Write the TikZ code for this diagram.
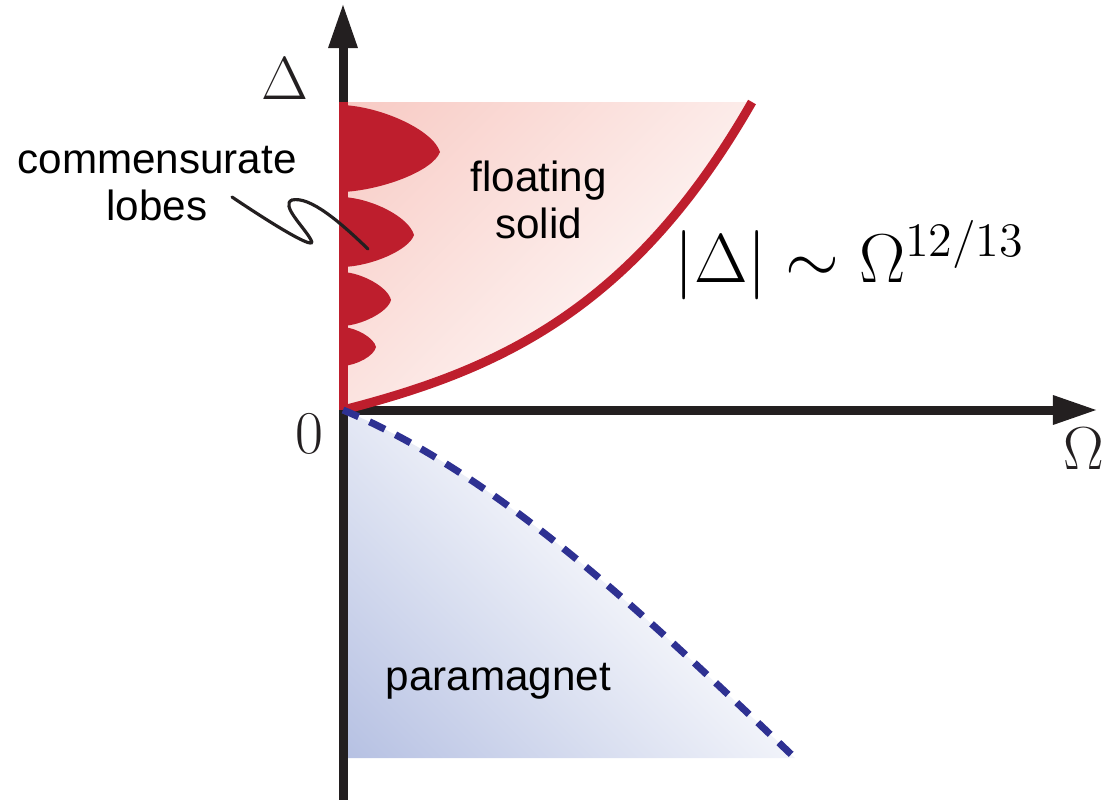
\documentclass[tikz,border=0pt]{standalone}
\usepackage{graphicx}
\usepackage{fontspec}
\newfontfamily\labelsans{Liberation Sans}
\usetikzlibrary{arrows.meta}
\definecolor{axisblack}{RGB}{35,31,32}
\definecolor{phred}{RGB}{190,30,45}
\definecolor{phblue}{RGB}{46,49,146}
\definecolor{pinkfill}{RGB}{246,190,182}
\definecolor{bluefill}{RGB}{160,174,218}
\pgfdeclareverticalshading{pinkgrad}{100bp}{color(0bp)=(white); color(22bp)=(white); color(100bp)=(pinkfill)}
\pgfdeclareverticalshading{bluegrad}{100bp}{color(0bp)=(bluefill); color(64bp)=(white); color(100bp)=(white)}
\begin{document}
\begin{tikzpicture}[x=0.01cm,y=-0.01cm,
  axisline/.style={draw=axisblack, line width=2.56pt, -{Triangle[length=0.45cm,width=0.27cm]}},
  redline/.style={draw=phred, line width=2.56pt},
  lobefill/.style={fill=phred},
  bluedash/.style={draw=phblue, line width=2pt, dash pattern=on 4.84pt off 3.41pt},
  leader/.style={draw=axisblack, line width=0.9pt, line cap=round},
  sanslabel/.style={font=\labelsans\fontsize{12}{13.37}\selectfont, align=center, inner sep=0pt, text=black},
  mathlabel/.style={font=\fontsize{17.28}{20}\selectfont, inner sep=0pt, text=axisblack},
  formula/.style={font=\fontsize{17.28}{21}\selectfont, inner sep=0pt, text=black}]
\useasboundingbox (0,0) rectangle (1112,800);
\coordinate (O) at (343,410);
\coordinate (Ybot) at (343,800);
\coordinate (Ytop) at (343,3);
\coordinate (Xend) at (1098,410);
\coordinate (Rtop) at (752,102);
\coordinate (Rleft) at (343,102);
\coordinate (Bend) at (795,758);
\coordinate (Bleft) at (343,758);
% shaded regions
\shade[shading=pinkgrad, shading angle=45]
  (Rleft) -- (Rtop) .. controls (632,312) and (495,371) .. (O) -- cycle;
\shade[shading=bluegrad, shading angle=-45]
  (O) .. controls (500,475) and (650,620) .. (Bend) -- (Bleft) -- cycle;
% axes
\draw[axisline] (Ybot) -- (Ytop);
\draw[axisline] (O) -- (Xend);
% lobes
\fill[lobefill] (343,105) .. controls (382,107) and (433,130) .. (440,152)
  .. controls (433,171) and (382,190) .. (343,192) -- cycle;
\fill[lobefill] (343,197) .. controls (372,198.5) and (409,217) .. (414,235)
  .. controls (409,250) and (372,266) .. (343,267) -- cycle;
\fill[lobefill] (343,272) .. controls (362,273) and (388,287) .. (391,300)
  .. controls (388,312) and (362,325) .. (343,326) -- cycle;
\fill[lobefill] (343,327) .. controls (357,328) and (374,338) .. (376,347)
  .. controls (374,356) and (357,365) .. (343,366) -- cycle;
% boundaries
\draw[redline] (O) .. controls (495,371) and (632,312) .. (Rtop);
\draw[redline] (Rleft) -- (O);
\draw[bluedash] (O) .. controls (500,475) and (650,620) .. (Bend);
% leader
\coordinate (Ls) at (232,197);
\coordinate (Le) at (368,249);
\draw[leader] (Ls) .. controls (275,226) and (318,252) .. (311,240)
  .. controls (305,228) and (280,205) .. (292,200)
  .. controls (310,196) and (340,222) .. (Le);
% labels
\node[mathlabel, anchor=base] (dl) at (285,99) {$\Delta$};
\node[mathlabel, anchor=base] (zl) at (309,453) {$0$};
\node[mathlabel, anchor=base] (ol) at (1083.5,469) {$\Omega$};
\node[formula, anchor=base] (law) at (850,282) {\scalebox{1.14}{$|\Delta| \sim \Omega^{12/13}$}};
\node[sanslabel, anchor=south] (lobes) at (157,222) {commensurate\\lobes};
\node[sanslabel, anchor=south] (fs) at (538.5,240) {floating\\solid};
\node[sanslabel, anchor=base] (pm) at (498.5,690) {paramagnet};
\end{tikzpicture}
\end{document}
